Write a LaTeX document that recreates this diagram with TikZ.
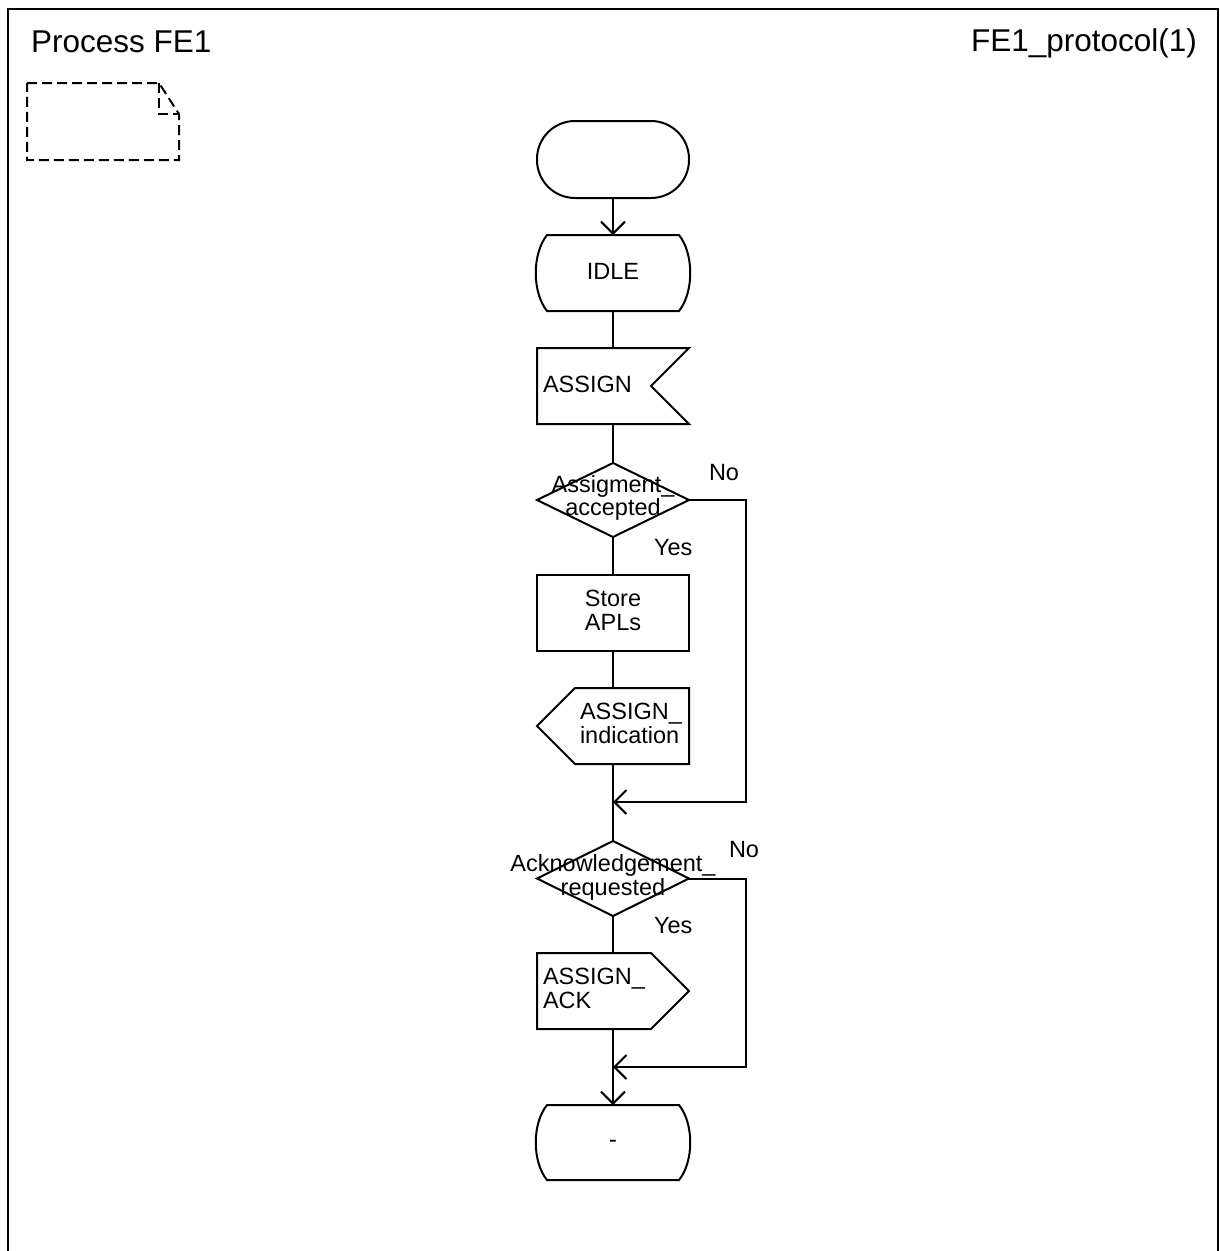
\documentclass[tikz,border=0pt]{standalone}
\usepackage{fontspec}
\setmainfont{Liberation Sans}
\usetikzlibrary{shapes.geometric,arrows.meta}
\newcommand\fsbig{\fontsize{31.5}{36}\selectfont}
\newcommand\fsmid{\fontsize{23.5}{23.5}\selectfont}
\begin{document}
\begin{tikzpicture}[x=1pt,y=-1pt,line width=2pt,
  el/.style={minimum width=152pt, minimum height=76pt, inner sep=0pt, outer sep=0pt},
  txt/.style={font=\fsmid, align=center, inner sep=0pt},
  ltxt/.style={font=\fsmid, align=left, inner sep=0pt, anchor=west},
  lab/.style={font=\fsmid, inner sep=0pt, anchor=base west},
  ttl/.style={font=\fsbig, inner sep=0pt},
  notel/.style={dash pattern=on 10pt off 5pt},
  arr/.style={-{Straight Barb[length=12pt,width=24pt,line width=2pt]}},
  stateshape/.style={shift={(#1.center)}},
]
\fill[white] (0,0) rectangle (1220,1251);
\useasboundingbox (0,0) rectangle (1220,1251);
% frame
\draw[line width=2.5pt] (8,1256) -- (8,9) -- (1218,9) -- (1218,1256);
\node[ttl, anchor=base west] (title) at (30,52) {Process FE1};
\node[ttl, anchor=base east] (page) at (1198,51) {FE1\_protocol(1)};
% text symbol (dashed)
\draw[notel] (27,83) -- (159,83) -- (179,114) -- (179,160) -- (27,160) -- cycle;
\draw[notel] (159,83) -- (159,114) -- (179,114);

% elements
\node[el, draw, rounded corners=38pt, minimum height=77pt] (start) at (613,159.5) {};
\node[el] (idle) at (613,273) {};
\node[el] (assign) at (613,386) {};
\node[el, draw, diamond, minimum width=152pt, minimum height=74pt] (d1) at (613,500) {};
\node[el, draw] (store) at (613,613) {};
\node[el] (ind) at (613,726) {};
\node[el, draw, diamond, minimum width=152pt, minimum height=75pt] (d2) at (613,878.5) {};
\node[el] (ack) at (613,991) {};
\node[el, minimum height=75pt] (dash) at (613,1142.5) {};

% outlines
\draw[stateshape=idle] (-66,-38) -- (66,-38) .. controls (81,-19) and (81,19) .. (66,38)
   -- (-66,38) .. controls (-81,19) and (-81,-19) .. (-66,-38) -- cycle;
\draw[stateshape=dash] (-66,-37.5) -- (66,-37.5) .. controls (81,-19) and (81,19) .. (66,37.5)
   -- (-66,37.5) .. controls (-81,19) and (-81,-19) .. (-66,-37.5) -- cycle;
\draw[stateshape=assign] (-76,-38) -- (76,-38) -- (38,0) -- (76,38) -- (-76,38) -- cycle;
\draw[stateshape=ind] (-38,-38) -- (76,-38) -- (76,38) -- (-38,38) -- (-76,0) -- cycle;
\draw[stateshape=ack] (-76,-38) -- (38,-38) -- (76,0) -- (38,38) -- (-76,38) -- cycle;

% texts
\node[txt] (idle-t) at (613,271) {IDLE};
\node[ltxt] (assign-t) at (542,384) {ASSIGN};
\node[txt] (d1-t) at (613,497.7) {Assigment\_\\accepted};
\node[txt] (store-t) at (613,610.5) {Store\\APLs};
\node[ltxt] (ind-t) at (579,723.5) {ASSIGN\_\\indication};
\node[txt] (d2-t) at (613,877.4) {Acknowledgement\_\\requested};
\node[ltxt] (ack-t) at (542,988.5) {ASSIGN\_\\ACK};
\node[txt] (dash-t) at (613,1143.7) {-};

\node[lab] (no1) at (708,480) {No};
\node[lab] (yes1) at (653,555) {Yes};
\node[lab] (no2) at (728,857) {No};
\node[lab] (yes2) at (653,933) {Yes};

% connectors
\coordinate (m1) at (613,802);
\coordinate (r1) at (746,802);
\coordinate (m2) at (613,1067);
\coordinate (r2) at (746,1067);
\draw[arr] (start.south) -- (idle.north);
\draw (idle.south) -- (assign.north);
\draw (assign.south) -- (d1.north);
\draw (d1.south) -- (store.north);
\draw (store.south) -- (ind.north);
\draw (ind.south) -- (d2.north);
\draw (d2.south) -- (ack.north);
\draw[arr] (ack.south) -- (dash.north);
\draw[arr] (d1.east) -| (r1) -- (m1);
\draw[arr] (d2.east) -| (r2) -- (m2);
\end{tikzpicture}
\end{document}
